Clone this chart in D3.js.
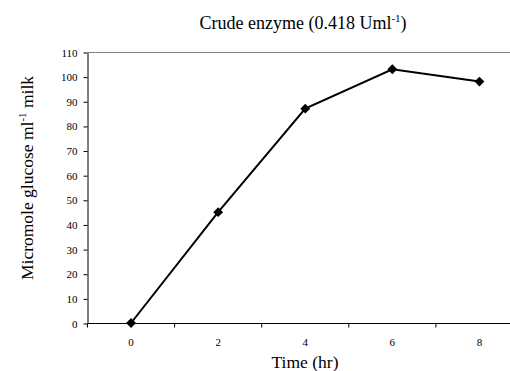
<!DOCTYPE html>
<html>
<head>
<meta charset="utf-8">
<script src="https://cdn.jsdelivr.net/npm/d3@7"></script>
<style>
  body { margin: 0; background: #fff; }
  text { font-family: "Liberation Serif", "Times New Roman", serif; }
</style>
</head>
<body>
<div id="chart"></div>
<script>
// data
var hours = ['0', '2', '4', '6', '8'];
var glucose = [0, 45, 87, 103, 98];
var yTicks = [0, 10, 20, 30, 40, 50, 60, 70, 80, 90, 100, 110];

var width = 510;
var height = 371;
var margin = { top: 52, right: -13, bottom: 48, left: 87.5 };

var svg = d3.select('#chart')
  .append('svg')
  .attr('width', width)
  .attr('height', height);

var x = d3.scaleBand()
  .domain(hours)
  .range([margin.left, width - margin.right]);

var y = d3.scaleLinear()
  .domain([0, 110])
  .range([height - margin.bottom, margin.top]);

// top border of plot area
svg.append('line')
  .attr('x1', margin.left).attr('x2', width)
  .attr('y1', y(110) + 0.5).attr('y2', y(110) + 0.5)
  .attr('stroke', '#808080')
  .attr('stroke-width', 1);

// y axis
var yAxis = svg.append('g')
  .attr('transform', 'translate(' + margin.left + ',0.5)')
  .call(d3.axisLeft(y).tickValues(yTicks).tickSize(4).tickSizeOuter(0).tickPadding(6));
yAxis.select('.domain').attr('stroke', '#000');
yAxis.selectAll('text').attr('font-size', 11).attr('font-family', '"Liberation Serif", serif');

// x axis: ticks sit between categories
var xAxis = svg.append('g')
  .attr('transform', 'translate(0,' + (y(0) + 0.5) + ')');
xAxis.append('line')
  .attr('x1', margin.left).attr('x2', width)
  .attr('stroke', '#000');
xAxis.selectAll('.tk')
  .data(hours)
  .enter()
  .append('line')
  .attr('x1', function(d) { return x(d); })
  .attr('x2', function(d) { return x(d); })
  .attr('y1', 0).attr('y2', 4)
  .attr('stroke', '#000');
xAxis.selectAll('.lbl')
  .data(hours)
  .enter()
  .append('text')
  .attr('x', function(d) { return x(d) + x.bandwidth() / 2; })
  .attr('y', 22)
  .attr('text-anchor', 'middle')
  .attr('font-size', 11)
  .text(function(d) { return d; });

// line + diamond markers
var pts = hours.map(function(h, i) { return { h: h, v: glucose[i] }; });
var line = d3.line()
  .x(function(d) { return x(d.h) + x.bandwidth() / 2; })
  .y(function(d) { return y(d.v); });

svg.append('path')
  .datum(pts)
  .attr('d', line)
  .attr('fill', 'none')
  .attr('stroke', '#000')
  .attr('stroke-width', 2);

svg.selectAll('.pt')
  .data(pts)
  .enter()
  .append('path')
  .attr('d', d3.symbol().type(d3.symbolDiamond2).size(62))
  .attr('transform', function(d) {
    return 'translate(' + (x(d.h) + x.bandwidth() / 2) + ',' + y(d.v) + ')';
  })
  .attr('fill', '#000');

// title
var title = svg.append('text')
  .attr('x', 303)
  .attr('y', 29)
  .attr('text-anchor', 'middle')
  .attr('font-size', 18);
title.append('tspan').text('Crude enzyme (0.418 Uml');
title.append('tspan').attr('font-size', 11).attr('dy', -7).text('-1');
title.append('tspan').attr('dy', 7).text(')');

// axis titles
svg.append('text')
  .attr('x', 305)
  .attr('y', 368)
  .attr('text-anchor', 'middle')
  .attr('font-size', 17.5)
  .text('Time (hr)');

var yl = svg.append('text')
  .attr('transform', 'translate(33,' + 178 + ') rotate(-90)')
  .attr('text-anchor', 'middle')
  .attr('font-size', 17.5);
yl.append('tspan').text('Micromole glucose ml');
yl.append('tspan').attr('font-size', 11).attr('dy', -7).text('-1');
yl.append('tspan').attr('dy', 7).text(' milk');
</script>
</body>
</html>
